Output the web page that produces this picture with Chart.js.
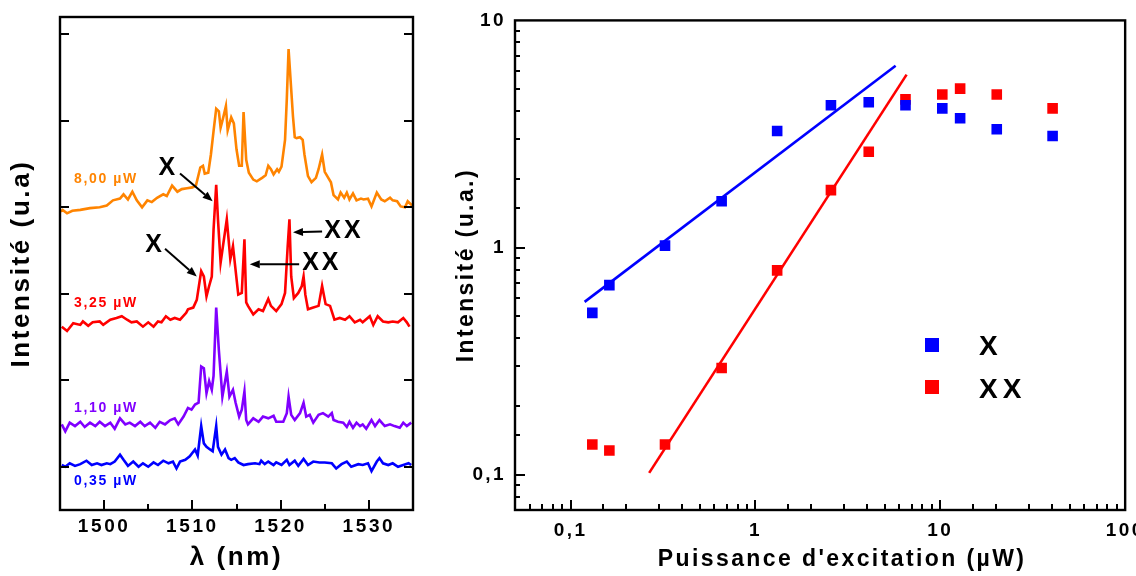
<!DOCTYPE html>
<html><head><meta charset="utf-8">
<script src="https://cdn.jsdelivr.net/npm/chart.js@4.4.1/dist/chart.umd.min.js"></script>
<style>
html,body{margin:0;padding:0;background:#fff;overflow:hidden;width:1136px;height:576px;}
#wrapL{position:absolute;left:0;top:0;width:430px;height:576px;}
#wrapR{position:absolute;left:430px;top:0;width:720px;height:576px;}
.leg{position:absolute;font:bold 28px "Liberation Sans",Arial,sans-serif;line-height:30px;color:#000;}
.sq{position:absolute;width:14px;height:14px;}
</style></head><body>
<div id="wrapL"><canvas id="cL"></canvas></div>
<div id="wrapR"><canvas id="cR"></canvas></div>
<div class="sq" style="left:925px;top:338px;background:#0000ff"></div>
<div class="leg" style="left:979px;top:331px;">X</div>
<div class="sq" style="left:925px;top:380px;background:#ff0000"></div>
<div class="leg" style="left:979px;top:374px;letter-spacing:5px;">XX</div>
<script>
// ---------- Left panel: PL spectra (offset vertically, arbitrary units) ----------
const orangeNm = [1495.1,1495.3,1495.8,1496.4,1497.3,1498.4,1499.5,1500.3,1501.0,1501.8,1502.2,1502.7,1503.2,1503.7,1504.3,1504.9,1505.4,1506.0,1506.7,1507.1,1507.7,1508.3,1508.8,1509.4,1510.0,1510.4,1510.9,1511.2,1511.4,1511.8,1512.1,1512.4,1512.7,1513.0,1513.2,1513.5,1513.8,1514.0,1514.4,1514.7,1515.0,1515.3,1515.6,1515.8,1516.1,1516.4,1516.9,1517.3,1517.9,1518.3,1518.6,1518.9,1519.2,1519.6,1519.8,1520.1,1520.5,1520.7,1520.9,1521.2,1521.4,1521.6,1521.8,1522.2,1522.5,1522.7,1523.1,1523.5,1524.0,1524.3,1524.7,1525.0,1525.4,1525.7,1526.0,1526.5,1526.8,1527.2,1527.5,1527.8,1528.2,1528.6,1529.1,1529.4,1529.9,1530.3,1530.9,1531.4,1531.8,1532.4,1532.7,1533.2,1533.6,1534.1,1534.4,1534.9];
const orangeI = [2.95,2.97,2.93,2.96,2.97,2.99,3.00,3.02,3.08,3.10,3.15,3.09,3.18,3.08,3.00,3.08,3.06,3.11,3.15,3.13,3.25,3.18,3.21,3.22,3.23,3.25,3.46,3.48,3.39,3.40,3.61,3.88,4.14,4.11,3.92,4.04,4.17,3.89,4.04,3.97,3.67,3.48,3.48,4.10,3.55,3.40,3.32,3.30,3.34,3.37,3.48,3.44,3.38,3.44,3.41,3.47,3.78,4.25,4.83,4.36,4.05,3.81,3.80,3.81,3.78,3.61,3.36,3.29,3.34,3.44,3.61,3.41,3.34,3.29,3.14,3.09,3.17,3.11,3.17,3.09,3.16,3.08,3.10,3.09,3.10,3.01,3.17,3.09,3.07,3.11,3.08,3.07,3.01,3.00,3.07,3.02];

const redNm = [1495.2,1495.8,1496.5,1497.3,1497.6,1498.2,1498.7,1499.5,1499.9,1500.7,1501.4,1502.0,1502.6,1503.1,1503.7,1504.4,1505.0,1505.6,1506.1,1506.5,1507.0,1507.5,1508.0,1508.6,1509.3,1509.5,1510.1,1510.5,1510.8,1511.0,1511.3,1511.6,1511.9,1512.2,1512.4,1512.7,1512.9,1513.2,1513.9,1514.3,1514.6,1515.2,1515.6,1515.9,1516.1,1516.3,1516.9,1517.5,1518.0,1518.6,1518.9,1519.5,1520.1,1520.5,1520.8,1521.0,1521.2,1521.5,1522.0,1522.4,1522.6,1522.8,1523.1,1523.7,1524.3,1524.7,1525.1,1525.6,1526.1,1526.7,1527.3,1527.8,1528.4,1529.0,1529.3,1530.1,1530.5,1531.0,1531.6,1532.2,1532.7,1533.3,1533.9,1534.3,1534.6];
const redI = [1.62,1.57,1.66,1.64,1.68,1.63,1.67,1.68,1.64,1.70,1.72,1.74,1.70,1.67,1.68,1.62,1.67,1.62,1.68,1.67,1.74,1.70,1.72,1.70,1.78,1.82,1.84,1.93,2.13,2.26,2.20,1.97,2.09,2.20,2.74,3.26,2.86,2.36,2.86,2.40,2.55,1.99,2.01,2.63,1.90,1.86,1.76,1.82,1.80,1.94,1.86,1.80,1.88,2.01,2.55,2.86,2.20,1.95,2.01,2.09,2.20,1.99,1.82,1.84,1.86,2.09,1.88,1.86,1.70,1.72,1.70,1.74,1.67,1.70,1.67,1.74,1.64,1.74,1.68,1.67,1.68,1.67,1.72,1.67,1.62];

const purpleNm = [1495.2,1495.6,1496.1,1496.7,1497.3,1497.8,1498.4,1499.0,1499.5,1500.1,1500.7,1501.2,1501.8,1502.4,1502.9,1503.5,1504.1,1504.6,1505.2,1505.8,1506.3,1506.9,1507.5,1508.0,1508.4,1509.0,1509.5,1509.9,1510.3,1510.7,1511.0,1511.3,1511.6,1511.9,1512.2,1512.4,1512.7,1513.0,1513.4,1513.9,1514.2,1514.6,1514.9,1515.3,1515.6,1515.9,1516.1,1516.3,1516.9,1517.5,1518.0,1518.6,1519.2,1519.5,1520.3,1520.7,1520.9,1521.2,1521.6,1522.2,1522.6,1522.9,1523.3,1523.7,1524.3,1524.8,1525.4,1525.8,1526.0,1526.5,1527.1,1527.5,1527.8,1528.2,1528.6,1529.0,1529.3,1529.7,1530.3,1530.7,1531.2,1531.8,1532.4,1532.9,1533.5,1533.9,1534.3,1534.8];
const purpleI = [0.49,0.41,0.51,0.47,0.52,0.46,0.51,0.47,0.52,0.47,0.51,0.44,0.56,0.49,0.51,0.47,0.52,0.47,0.51,0.45,0.52,0.49,0.54,0.56,0.49,0.58,0.68,0.66,0.72,0.74,1.16,1.14,0.85,0.99,0.89,1.05,1.84,1.35,0.81,1.10,0.81,0.89,0.74,0.58,0.66,0.87,0.54,0.49,0.56,0.52,0.58,0.56,0.59,0.52,0.52,0.62,0.81,0.60,0.54,0.62,0.74,0.58,0.60,0.51,0.60,0.62,0.58,0.62,0.54,0.52,0.51,0.46,0.52,0.45,0.51,0.47,0.49,0.44,0.54,0.47,0.54,0.47,0.49,0.47,0.45,0.51,0.47,0.51];

const blueNm = [1495.2,1495.6,1496.1,1496.7,1497.3,1498.0,1498.6,1499.2,1499.7,1500.3,1500.7,1501.2,1501.8,1502.2,1502.7,1503.3,1503.9,1504.4,1505.0,1505.6,1506.1,1506.7,1507.3,1507.8,1508.2,1508.6,1509.2,1509.7,1510.3,1510.6,1511.0,1511.3,1511.6,1512.0,1512.3,1512.7,1512.9,1513.3,1513.7,1514.1,1514.4,1514.8,1515.2,1515.8,1516.3,1517.1,1517.6,1517.8,1518.2,1518.6,1519.2,1519.5,1520.1,1520.7,1521.0,1521.6,1522.0,1522.6,1523.1,1523.7,1524.4,1525.0,1525.8,1526.3,1526.9,1527.5,1528.0,1528.8,1529.3,1529.9,1530.3,1530.9,1531.2,1531.6,1532.2,1532.7,1533.3,1533.9,1534.5,1534.8];
const blueI = [0.02,0.00,0.04,0.01,0.03,0.07,0.02,0.04,0.02,0.04,0.03,0.06,0.14,0.08,0.01,0.06,0.00,0.04,0.00,0.05,0.02,0.07,0.04,0.06,-0.02,0.06,0.08,0.12,0.20,0.13,0.47,0.27,0.23,0.20,0.18,0.47,0.23,0.14,0.20,0.10,0.08,0.10,0.05,0.02,0.03,0.04,0.03,0.07,0.03,0.06,0.02,0.05,0.02,0.08,0.02,0.07,0.01,0.09,0.02,0.06,0.05,0.05,0.04,-0.02,0.03,0.06,0.00,0.03,0.02,0.04,-0.05,0.06,0.10,0.04,0.02,0.04,0.00,0.02,0.04,0.02];

const spectrumLabels = ['8,00 µW','3,25 µW','1,10 µW','0,35 µW'];
const wlTickLabels = [1500,1510,1520,1530];

// ---------- Right panel: integrated intensity vs excitation power ----------
const powerUW = [0.131,0.162,0.324,0.656,1.31,2.56,4.10,6.48,10.25,12.8,20.2,40.5];
const intensX = [0.516,0.684,1.02,1.60,3.26,4.23,4.36,4.23,4.10,3.71,3.32,3.10];
const intensXX = [0.136,0.128,0.136,0.295,0.794,1.79,2.64,4.49,4.72,5.01,4.72,4.10];
const fitXPower = [0.119,5.73];
const fitXInt = [0.577,6.31];
const fitXXPower = [0.266,6.57];
const fitXXInt = [0.102,5.77];

const FONT = '"Liberation Sans", Arial, Helvetica, sans-serif';
Chart.defaults.font.family = FONT;
Chart.defaults.font.weight = 'bold';
Chart.defaults.color = '#000';

const zip = (xs, ys) => xs.slice(0, Math.min(xs.length, ys.length)).map((x, i) => ({x, y: ys[i]}));
const isDecade = v => { const l = Math.log10(v); return Math.abs(l - Math.round(l)) < 1e-6; };

const spacing = (px) => ({id: 'spacing', beforeDraw(chart) { chart.ctx.letterSpacing = px; }});

function axesPlugin(cfg) {
  return {
    id: 'axesFrame',
    afterDatasetsDraw(chart) {
      const {ctx, chartArea: a} = chart;
      const xs = chart.scales.x, ys = chart.scales.y;
      ctx.save();
      ctx.strokeStyle = '#000';
      ctx.lineWidth = 2.4;
      ctx.strokeRect(a.left, a.top, a.right - a.left, a.bottom - a.top);
      ctx.lineWidth = 2;
      ctx.beginPath();
      xs.ticks.forEach(t => {
        const v = t.value;
        if (v <= xs.min * (1 + 1e-9) || v >= xs.max * (1 - 1e-9)) return;
        const px = Math.round(xs.getPixelForValue(v));
        const len = cfg.xMajor(v) ? cfg.xMajorLen : cfg.xMinorLen;
        ctx.moveTo(px, a.bottom); ctx.lineTo(px, a.bottom - len);
      });
      ys.ticks.forEach(t => {
        const v = t.value;
        if (!cfg.yKeep(v, ys)) return;
        const py = Math.round(ys.getPixelForValue(v));
        const len = cfg.yMajor(v) ? cfg.yMajorLen : cfg.yMinorLen;
        ctx.moveTo(a.left, py); ctx.lineTo(a.left + len, py);
        if (cfg.mirrorY) { ctx.moveTo(a.right, py); ctx.lineTo(a.right - len, py); }
      });
      ctx.stroke();
      ctx.restore();
    }
  };
}

function arrow(ctx, x1, y1, x2, y2) {
  const ang = Math.atan2(y2 - y1, x2 - x1), L = 10, W = 4;
  const bx = x2 - L * Math.cos(ang), by = y2 - L * Math.sin(ang);
  ctx.beginPath(); ctx.moveTo(x1, y1); ctx.lineTo(bx, by); ctx.stroke();
  ctx.beginPath();
  ctx.moveTo(x2, y2);
  ctx.lineTo(bx + W * Math.sin(ang), by - W * Math.cos(ang));
  ctx.lineTo(bx - W * Math.sin(ang), by + W * Math.cos(ang));
  ctx.closePath(); ctx.fill();
}

const spectraAnnot = {
  id: 'spectraAnnot',
  afterDatasetsDraw(chart) {
    const {ctx} = chart;
    const X = v => chart.scales.x.getPixelForValue(v);
    const Y = v => chart.scales.y.getPixelForValue(v);
    ctx.save();
    // power labels
    const labelPos = [[3.32, '#ff8400'], [1.89, '#ff0000'], [0.68, '#8000ff'], [-0.17, '#0000ff']];
    ctx.font = 'bold 14px ' + FONT;
    ctx.letterSpacing = '1.6px';
    ctx.textAlign = 'left'; ctx.textBaseline = 'middle';
    spectrumLabels.forEach((t, i) => { ctx.fillStyle = labelPos[i][1]; ctx.fillText(t, X(1496.6), Y(labelPos[i][0])); });
    // X / XX annotations
    ctx.fillStyle = '#000'; ctx.strokeStyle = '#000'; ctx.lineWidth = 2;
    ctx.font = 'bold 25px ' + FONT;
    ctx.letterSpacing = '3px';
    ctx.textAlign = 'center';
    const notes = [
      ['X', 1507.1, 3.45, 1508.6, 3.39, 1512.3, 3.07],
      ['X', 1505.6, 2.56, 1506.9, 2.52, 1510.5, 2.20],
      ['XX', 1527.0, 2.73, 1524.7, 2.72, 1521.4, 2.71],
      ['XX', 1524.5, 2.35, 1522.1, 2.34, 1516.5, 2.34]
    ];
    notes.forEach(n => {
      ctx.fillText(n[0], X(n[1]) + 1.5, Y(n[2]));
      arrow(ctx, X(n[3]), Y(n[4]), X(n[5]), Y(n[6]));
    });
    ctx.restore();
  }
};

const lineDs = (label, nm, I, color) => ({
  label, data: zip(nm, I), borderColor: color, backgroundColor: color,
  borderWidth: 2.6, pointRadius: 0, tension: 0, fill: false
});

new Chart(document.getElementById('cL'), {
  type: 'line',
  data: {datasets: [
    lineDs('0,35 µW', blueNm, blueI, '#0000ff'),
    lineDs('1,10 µW', purpleNm, purpleI, '#8000ff'),
    lineDs('3,25 µW', redNm, redI, '#ff0000'),
    lineDs('8,00 µW', orangeNm, orangeI, '#ff8400')
  ]},
  options: {
    animation: false, responsive: true, maintainAspectRatio: false,
    layout: {padding: {top: 17, right: 17, left: 0, bottom: 0}},
    plugins: {legend: {display: false}, tooltip: {enabled: false}},
    scales: {
      x: {
        type: 'linear', min: 1495, max: 1535,
        grid: {display: false, drawTicks: false}, border: {display: false},
        ticks: {stepSize: 5, padding: 5, autoSkip: false, maxRotation: 0, font: {size: 19, weight: 'bold'}, color: '#000',
          callback: v => wlTickLabels.includes(v) ? String(v) : ''},
        title: {display: true, text: 'λ (nm)', font: {size: 26, weight: 'bold'}, color: '#000', padding: {top: 0, bottom: 3}},
        afterFit: s => { s.height = 66; }
      },
      y: {
        type: 'linear', min: -0.5, max: 5.2,
        grid: {display: false, drawTicks: false}, border: {display: false},
        ticks: {display: false, stepSize: 1},
        title: {display: true, text: 'Intensité (u.a)', font: {size: 26, weight: 'bold'}, color: '#000', padding: {top: 6, bottom: 0}},
        afterFit: s => { s.width = 60; }
      }
    }
  },
  plugins: [spacing('2.6px'), spectraAnnot, axesPlugin({
    xMajor: v => v % 10 === 0, xMajorLen: 10, xMinorLen: 6,
    yKeep: (v, s) => Number.isInteger(v) && v > s.min && v < s.max,
    yMajor: () => true, yMajorLen: 9, yMinorLen: 9, mirrorY: true
  })]
});

const fmtDecade = v => v < 1 ? String(v).replace('.', ',') : String(Math.round(v));

new Chart(document.getElementById('cR'), {
  type: 'line',
  data: {datasets: [
    {label: 'X', data: zip(powerUW, intensX), showLine: false, pointStyle: 'rect', pointRadius: 7.5,
     pointBackgroundColor: '#0000ff', pointBorderWidth: 0, borderColor: '#0000ff'},
    {label: 'XX', data: zip(powerUW, intensXX), showLine: false, pointStyle: 'rect', pointRadius: 7.5,
     pointBackgroundColor: '#ff0000', pointBorderWidth: 0, borderColor: '#ff0000'},
    {label: 'fit X', data: zip(fitXPower, fitXInt), borderColor: '#0000ff', borderWidth: 2.6, pointRadius: 0, tension: 0},
    {label: 'fit XX', data: zip(fitXXPower, fitXXInt), borderColor: '#ff0000', borderWidth: 2.6, pointRadius: 0, tension: 0}
  ]},
  options: {
    animation: false, responsive: true, maintainAspectRatio: false,
    layout: {padding: {top: 17, right: 23, left: 0, bottom: 0}},
    plugins: {legend: {display: false}, tooltip: {enabled: false}},
    scales: {
      x: {
        type: 'logarithmic', min: 0.05, max: 100,
        grid: {display: false, drawTicks: false}, border: {display: false},
        ticks: {padding: 9, autoSkip: false, maxRotation: 0, font: {size: 19, weight: 'bold'}, color: '#000',
          callback: v => isDecade(v) ? fmtDecade(v) : ''},
        title: {display: true, text: "     Puissance d'excitation (µW)", font: {size: 23, weight: 'bold'}, color: '#000', padding: {top: 0, bottom: 3}},
        afterFit: s => { s.height = 66; }
      },
      y: {
        type: 'logarithmic', min: 0.07, max: 10,
        grid: {display: false, drawTicks: false}, border: {display: false},
        ticks: {padding: 9, autoSkip: false, font: {size: 19, weight: 'bold'}, color: '#000',
          callback: v => isDecade(v) ? fmtDecade(v) : ''},
        title: {display: true, text: 'Intensité (u.a.)', font: {size: 23, weight: 'bold'}, color: '#000', padding: {top: 23, bottom: 0}},
        afterFit: s => { s.width = 85; }
      }
    }
  },
  plugins: [spacing('2.4px'), axesPlugin({
    xMajor: isDecade, xMajorLen: 10, xMinorLen: 6,
    yKeep: (v, s) => v > s.min * 1.0001 && v < s.max * 0.9999,
    yMajor: isDecade, yMajorLen: 10, yMinorLen: 5, mirrorY: false
  })]
});
</script>
</body></html>
